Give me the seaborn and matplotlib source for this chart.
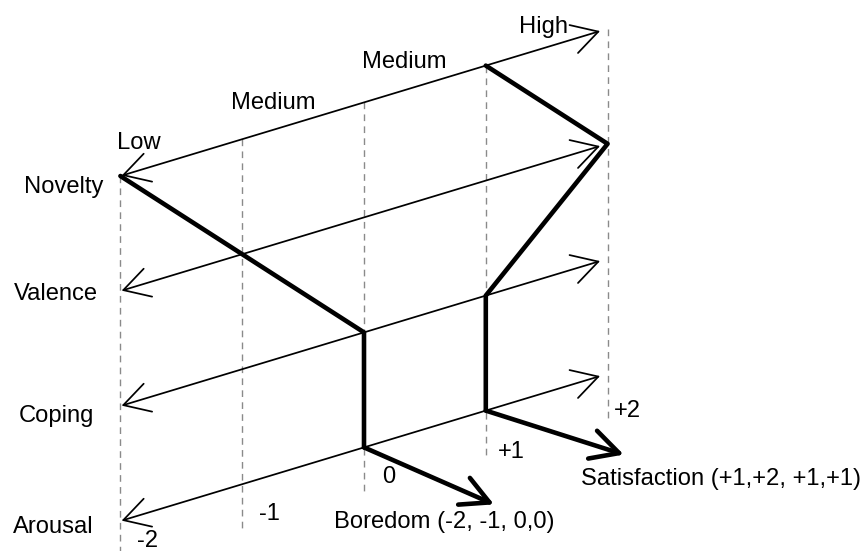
import numpy as np
import pandas as pd
import matplotlib
matplotlib.use("Agg")
import matplotlib.pyplot as plt
import seaborn as sns

# ---------------- data ----------------
dimensions = ["Novelty", "Valence", "Coping", "Arousal"]
levels = [-2, -1, 0, 1, 2]
level_labels = ["-2", "-1", "0", "+1", "+2"]
novelty_levels = [-2, -1, 0, 2]
novelty_labels = ["Low", "Medium", "Medium", "High"]
boredom = [-2, -1, 0, 0]
satisfaction = [1, 2, 1, 1]
pattern_names = ["Boredom (-2, -1, 0,0)", "Satisfaction (+1,+2, +1,+1)"]

# ---------------- layout (pixels of the 864x551 canvas) ----------------
W, H, DPI = 864, 551, 100
UNIT_X = 121.8      # px per level
CENTER_X = 364.0    # px of level 0
ROW = 115.0         # px between dimension rows
TOP = 176.0         # px of the Novelty row at level -2
SHEAR = 36.8 / ROW  # rise of each row per level (in row units)


def yrow(level, dim):
    return -dim + SHEAR * (np.asarray(level) + 2)


def px2x(px):
    return (px - CENTER_X) / UNIT_X


def py2y(py):
    return (TOP - py) / ROW


sns.set_theme(style="white")
plt.rcParams["font.family"] = ["Liberation Sans", "DejaVu Sans"]

fig = plt.figure(figsize=(W / DPI, H / DPI), dpi=DPI)
ax = fig.add_axes([0, 0, 1, 1])
ax.axis("off")

FS = 17.1

# dashed vertical guides for each level
for L in levels:
    ax.plot([L, L], [yrow(L, 0), yrow(L, len(dimensions) - 1) - 48 / ROW],
            color="#8a8a8a", lw=1.0, ls=(0, (4.8, 3.8)), zorder=1)

# thin double-headed axis arrows, one per dimension
for d, name in enumerate(dimensions):
    x0, x1 = -2 + 0.01, 2 - 0.062
    ax.annotate("", xy=(x1, yrow(x1, d)), xytext=(x0, yrow(x0, d)),
                arrowprops=dict(arrowstyle="<->,head_length=1.85,head_width=1.05",
                                lw=1.25, color="black", shrinkA=0, shrinkB=0,
                                mutation_scale=10), zorder=2)

# thick emotion profiles
rows = []
for pname, prof in zip(pattern_names, [boredom, satisfaction]):
    for d, L in enumerate(prof):
        rows.append({"pattern": pname, "x": L, "y": float(yrow(L, d))})
df = pd.DataFrame(rows)
sns.lineplot(data=df, x="x", y="y", units="pattern", estimator=None,
             sort=False, color="black", lw=3.3, ax=ax, zorder=3, legend=False)
ax.set_xlabel("")
ax.set_ylabel("")
ax.set_xlim(px2x(0), px2x(W))
ax.set_ylim(py2y(H), py2y(0))

# thick result arrows from the Arousal point of each profile
end_offsets = [(130, 57), (138, 44)]  # px direction of the final arrows
for prof, (dx, dy) in zip([boredom, satisfaction], end_offsets):
    L = prof[-1]
    y0 = float(yrow(L, len(dimensions) - 1))
    ax.annotate("", xy=(L + dx / UNIT_X, y0 - dy / ROW), xytext=(L, y0),
                arrowprops=dict(arrowstyle="->,head_length=2.0,head_width=1.05",
                                lw=3.3, color="black", shrinkA=0, shrinkB=0,
                                mutation_scale=10), zorder=3)

# dimension names (right aligned, baseline)
dim_text = [(102, 193), (97, 300), (93, 422), (93, 533)]
for name, (px, py) in zip(dimensions, dim_text):
    ax.text(px2x(px + 1), py2y(py), name, ha="right", va="baseline",
            fontsize=FS, color="black")

# novelty level words
nov_text = [(117, 149, "left"), (231, 109, "left"), (362, 68, "left"), (568, 33, "right")]
for lab, (px, py, ha) in zip(novelty_labels, nov_text):
    ax.text(px2x(px), py2y(py), lab, ha=ha, va="baseline", fontsize=FS,
            color="black")

# level numbers
num_text = [(137, 547), (259, 520), (382, 483), (498, 458), (614, 417)]
for lab, (px, py) in zip(level_labels, num_text):
    ax.text(px2x(px), py2y(py), lab, ha="left", va="baseline", fontsize=FS,
            color="black")

# pattern names
pat_text = [(334, 528), (581, 485)]
for lab, (px, py) in zip(pattern_names, pat_text):
    ax.text(px2x(px), py2y(py), lab, ha="left", va="baseline", fontsize=FS,
            color="black")

fig.savefig("out.png", dpi=DPI, facecolor="white")
